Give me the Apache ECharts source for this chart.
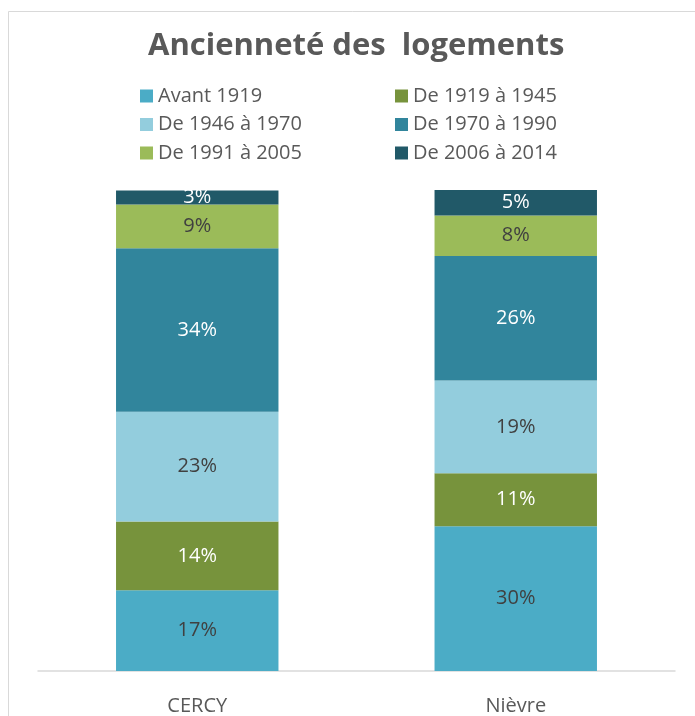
<!DOCTYPE html>
<html>
<head>
<meta charset="utf-8">
<script src="https://cdn.jsdelivr.net/npm/echarts@6/dist/echarts.min.js"></script>
<style>
  html, body { margin: 0; padding: 0; background: #fff; }
  #chart { width: 695px; height: 716px; }
</style>
</head>
<body>
<div id="chart"></div>
<script>
// data (share of dwellings, %)
var categories = ['CERCY', 'Nièvre'];
var periods = ['Avant 1919', 'De 1919 à 1945', 'De 1946 à 1970', 'De 1970 à 1990', 'De 1991 à 2005', 'De 2006 à 2014'];
var avant1919 = [16.8, 30.1];
var de1919a1945 = [14.3, 11.0];
var de1946a1970 = [22.8, 19.3];
var de1970a1990 = [34.0, 25.9];
var de1991a2005 = [9.1, 8.4];
var de2006a2014 = [2.9, 5.3];

var values = [avant1919, de1919a1945, de1946a1970, de1970a1990, de1991a2005, de2006a2014];
var colors = ['#4BACC6', '#77933C', '#93CDDD', '#31859C', '#9BBB59', '#215968'];
var labelColors = ['#404040', '#ffffff', '#404040', '#ffffff', '#404040', '#ffffff'];
var font = '"Open Sans", "Noto Sans", sans-serif';

var chart = echarts.init(document.getElementById('chart'));

var series = periods.map(function (name, i) {
    return {
        name: name,
        type: 'bar',
        stack: 'total',
        barCategoryGap: '49%',
        data: values[i],
        itemStyle: { color: colors[i] },
        label: {
            show: true,
            position: 'inside',
            color: labelColors[i],
            fontFamily: font,
            fontSize: 20,
            formatter: function (p) { return Math.round(p.value) + '%'; }
        }
    };
});

var legendText = { color: '#595959', fontFamily: font, fontSize: 20, lineHeight: 20 };

chart.setOption({
    backgroundColor: '#ffffff',
    animation: false,
    color: colors,
    title: {
        text: 'Ancienneté des  logements',
        left: 148,
        top: 31,
        padding: 0,
        textStyle: { color: '#595959', fontFamily: font, fontWeight: 'bold', fontSize: 31 }
    },
    legend: [
        {
            orient: 'vertical', left: 140, top: 86, itemGap: 8.5, padding: 0,
            itemWidth: 13, itemHeight: 13, icon: 'rect',
            data: [periods[0], periods[2], periods[4]],
            textStyle: legendText
        },
        {
            orient: 'vertical', left: 395, top: 86, itemGap: 8.5, padding: 0,
            itemWidth: 13, itemHeight: 13, icon: 'rect',
            data: [periods[1], periods[3], periods[5]],
            textStyle: legendText
        }
    ],
    grid: { left: 38, right: 20, top: 190, bottom: 44 },
    xAxis: {
        type: 'category',
        data: categories,
        axisLine: { lineStyle: { color: '#d9d9d9', width: 1.5 } },
        axisTick: { show: false },
        axisLabel: { color: '#595959', fontFamily: font, fontSize: 20, margin: 25 }
    },
    yAxis: {
        type: 'value',
        min: 0,
        max: 100,
        show: false,
        splitLine: { show: false }
    },
    graphic: [{
        type: 'rect',
        silent: true,
        shape: { x: 8.5, y: 11.5, width: 720, height: 720 },
        style: { fill: 'none', stroke: '#d9d9d9', lineWidth: 1 }
    }],
    series: series
});
</script>
</body>
</html>
